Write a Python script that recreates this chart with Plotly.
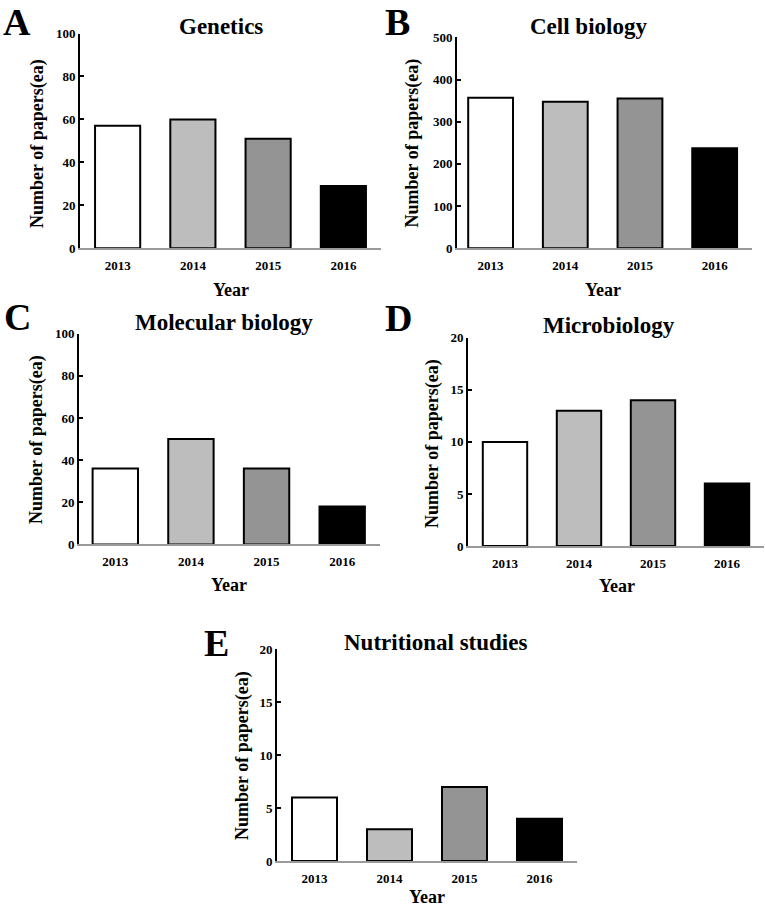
import plotly.graph_objects as go

W, H = 765, 908

years = ["2013", "2014", "2015", "2016"]
genetics = [57, 60, 51, 29]
cell_biology = [357, 347, 355, 237]
molecular_biology = [36, 50, 36, 18]
microbiology = [10, 13, 14, 6]
nutritional = [6, 3, 7, 4]

panel_titles = ["Genetics", "Cell biology", "Molecular biology", "Microbiology", "Nutritional studies"]
panel_letters = ["A", "B", "C", "D", "E"]
y_ticks = [
    [0, 20, 40, 60, 80, 100],
    [0, 100, 200, 300, 400, 500],
    [0, 20, 40, 60, 80, 100],
    [0, 5, 10, 15, 20],
    [0, 5, 10, 15, 20],
]
bar_colors = ["#ffffff", "#bdbdbd", "#949494", "#000000"]

FONT = "Liberation Serif"

# pixel layout in page coords: (x0, x1, ytop, ybottom, xrange_start)
boxes = [
    (80, 381, 33.5, 248.3, -0.5),
    (457, 752, 37.3, 248.3, -0.45),
    (79, 380, 333.7, 544.4, -0.48),
    (468, 764, 337.8, 546.0, -0.5),
    (277, 577, 649.3, 861.0, -0.5),
]
title_pos = [(221, 27), (588, 27), (224, 322), (609, 325), (435, 642)]
# (x, y, yanchor)
letter_pos = [(17, 0, "top"), (397, 0, "top"), (17, 317, "middle"), (398, 318, "middle"), (216, 643, "middle")]
ytitle_pos = [(37.5, 143.5), (412, 143.5), (36, 440), (432, 444), (242, 756)]
xtitle_pos = [(231, 290), (603, 290), (229, 585), (617, 586), (427, 897)]

series = [genetics, cell_biology, molecular_biology, microbiology, nutritional]


def px(x):
    return x / W


def py(y):
    return 1 - y / H


fig = go.Figure()
layout = dict(
    width=W, height=H, autosize=False,
    margin=dict(l=0, r=0, t=0, b=0, pad=0),
    paper_bgcolor="white", plot_bgcolor="white",
    showlegend=False,
    font=dict(family=FONT, color="black"),
)
annotations = []
tickfont = dict(family=FONT, size=13, color="black")

for i, vals in enumerate(series):
    n = "" if i == 0 else str(i + 1)
    x0, x1, yt, yb, xr0 = boxes[i]
    fig.add_trace(go.Bar(
        x=years, y=vals, xaxis="x" + n, yaxis="y" + n,
        width=0.6,
        marker=dict(color=bar_colors, line=dict(color="black", width=2)),
        hoverinfo="x+y",
    ))
    layout["xaxis" + n] = dict(
        domain=[px(x0), px(x1)], anchor="y" + n, type="category",
        range=[xr0, 3.5], showline=True, linecolor="#9a9a9a", linewidth=2,
        ticks="", showgrid=False, zeroline=False, automargin=False,
        tickvals=years, ticktext=["<b>%s</b>" % y for y in years],
        tickfont=tickfont, ticklabelstandoff=4,
    )
    tv = y_ticks[i]
    layout["yaxis" + n] = dict(
        domain=[py(yb), py(yt)], anchor="x" + n,
        range=[0, tv[-1]], tickvals=tv, ticktext=["<b>%d</b>" % t for t in tv],
        showline=True, linecolor="black", linewidth=2,
        ticks="inside", ticklen=4, tickwidth=1.5, tickcolor="black",
        showgrid=False, zeroline=False, automargin=False,
        tickfont=tickfont,
    )
    tx, ty = title_pos[i]
    annotations.append(dict(text="<b>%s</b>" % panel_titles[i], x=px(tx), y=py(ty),
                            xref="paper", yref="paper", showarrow=False,
                            xanchor="center", yanchor="middle",
                            font=dict(family=FONT, size=23, color="black")))
    lx, ly, lanc = letter_pos[i]
    annotations.append(dict(text="<b>%s</b>" % panel_letters[i], x=px(lx), y=py(ly),
                            xref="paper", yref="paper", showarrow=False,
                            xanchor="center", yanchor=lanc, borderpad=0,
                            font=dict(family=FONT, size=38, color="black")))
    yx, yy = ytitle_pos[i]
    annotations.append(dict(text="<b>Number of papers(ea)</b>", x=px(yx), y=py(yy),
                            xref="paper", yref="paper", showarrow=False,
                            xanchor="center", yanchor="middle", textangle=-90,
                            font=dict(family=FONT, size=18, color="black")))
    xx, xy = xtitle_pos[i]
    annotations.append(dict(text="<b>Year</b>", x=px(xx), y=py(xy),
                            xref="paper", yref="paper", showarrow=False,
                            xanchor="center", yanchor="middle",
                            font=dict(family=FONT, size=18, color="black")))

layout["annotations"] = annotations
fig.update_layout(**layout)
fig.write_html("out.html", config={"displayModeBar": False},
               post_script="document.body.style.margin='0px';")
